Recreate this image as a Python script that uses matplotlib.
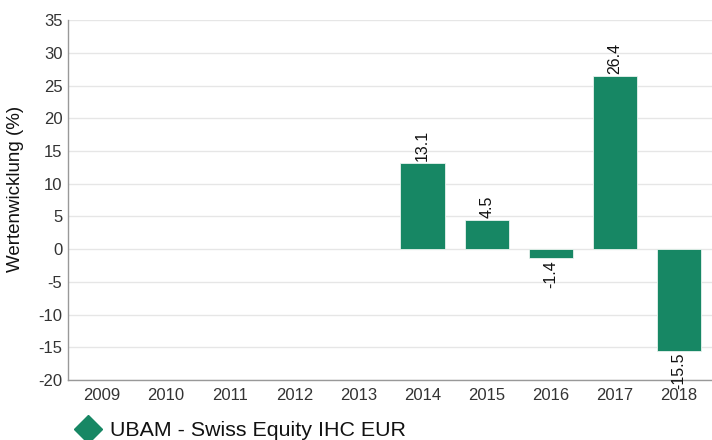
import matplotlib
matplotlib.use("Agg")
import matplotlib.pyplot as plt
from matplotlib.lines import Line2D

plt.rcParams['font.family'] = ['Liberation Sans', 'DejaVu Sans']
plt.rcParams['axes.unicode_minus'] = False

jahre = ['2009', '2010', '2011', '2012', '2013', '2014', '2015', '2016', '2017', '2018']
werte = [None, None, None, None, None, 13.1, 4.5, -1.4, 26.4, -15.5]
farbe = '#178764'
fonds = 'UBAM - Swiss Equity IHC EUR'

W, H = 712, 440
fig = plt.figure(figsize=(W / 100, H / 100), dpi=100)
ax = fig.add_axes([0.0955, 0.136, 0.906, 0.8185])

x = list(range(len(jahre)))
for i, v in zip(x, werte):
    if v is None:
        continue
    ax.bar(i, v, width=0.69, color=farbe, edgecolor='#e8f3ee', linewidth=0.6, zorder=3)
    if v >= 0:
        ax.text(i, v + 0.3, f"{v:.1f}", rotation=90, ha='center', va='bottom',
                fontsize=11.5, color='#111111', zorder=4)
    else:
        ax.text(i, v - 0.3, f"{v:.1f}", rotation=90, ha='center', va='top',
                fontsize=11.5, color='#111111', zorder=4)

ax.set_xlim(-0.53, len(jahre) - 0.47)
ax.set_ylim(-20, 35)
ax.set_yticks(range(-20, 36, 5))
ax.set_xticks(x)
ax.set_xticklabels(jahre)
ax.tick_params(axis='y', length=0, labelsize=12, colors='#333333', pad=4)
ax.tick_params(axis='x', length=0, labelsize=12, colors='#333333', pad=6)
ax.grid(axis='y', color='#e6e6e6', linewidth=1, zorder=0)
for s in ['top', 'right']:
    ax.spines[s].set_visible(False)
for s in ['left', 'bottom']:
    ax.spines[s].set_color('#999999')
    ax.spines[s].set_linewidth(1)
ax.set_ylabel('Wertenwicklung (%)', fontsize=13.5, color='#111111')
ax.yaxis.set_label_coords(-0.068, 0.53)

# Legende unten links
fig.add_artist(Line2D([88 / W], [1 - 429 / H], marker='D', color=farbe,
                      markersize=14, linestyle='none', transform=fig.transFigure))
fig.text(110 / W, 1 - 430 / H, fonds, fontsize=15.4, color='#111111', va='center')

fig.savefig('out.png', dpi=100)
